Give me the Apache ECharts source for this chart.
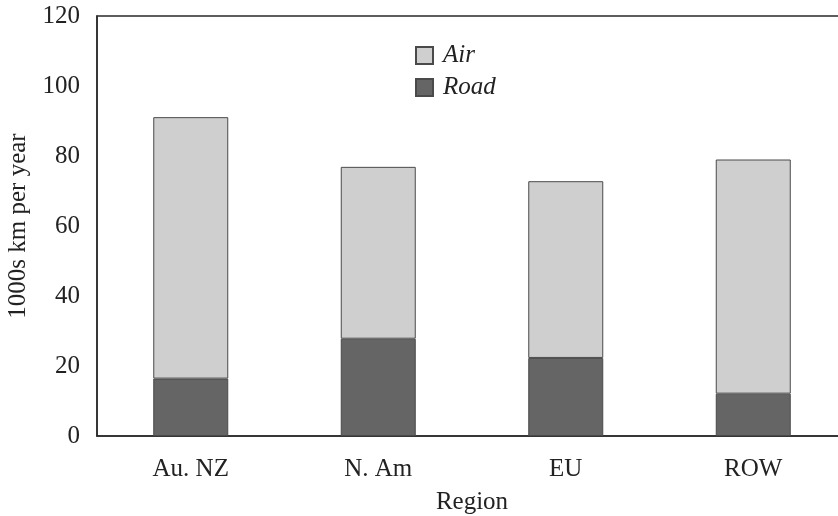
<!DOCTYPE html>
<html>
<head>
<meta charset="utf-8">
<script src="https://cdn.jsdelivr.net/npm/echarts@6/dist/echarts.min.js"></script>
<style>html,body{margin:0;padding:0;background:#fff}#c{width:838px;height:516px}</style>
</head>
<body>
<div id="c"></div>
<script>
const categories = ['Au. NZ', 'N. Am', 'EU', 'ROW'];
const totals = [91.1, 76.9, 72.8, 79.0];
const road = [16.4, 27.8, 22.3, 12.1];
const air = totals.map((t, i) => +(t - road[i]).toFixed(1));
const yTicks = [0, 20, 40, 60, 80, 100, 120];

const FONT = '"Liberation Serif", "DejaVu Serif", serif';
const FS = 25;
const chart = echarts.init(document.getElementById('c'), null, {renderer: 'canvas'});
chart.setOption({
  animation: false,
  backgroundColor: '#ffffff',
  grid: {left: 97, top: 16, width: 750, height: 420, containLabel: false, outerBoundsMode: 'none',
    show: true, borderColor: '#2a2a2a', borderWidth: 1.5, backgroundColor: 'transparent'},
  legend: {
    orient: 'vertical', left: 410, top: 38, itemWidth: 17, itemHeight: 17, itemGap: 7,
    icon: 'rect',
    textStyle: {fontFamily: FONT, fontStyle: 'italic', fontSize: 25, color: '#222', lineHeight: 25, padding: [0, 0, 0, 5]},
    data: ['Air', 'Road']
  },
  xAxis: {
    type: 'category', data: categories,
    axisLine: {show: true, lineStyle: {color: '#2a2a2a', width: 1.5}},
    axisTick: {show: false},
    axisLabel: {fontFamily: FONT, fontSize: FS, color: '#222', margin: 21},
    name: 'Region', nameLocation: 'middle', nameGap: 54,
    nameTextStyle: {fontFamily: FONT, fontSize: FS, color: '#222'}
  },
  yAxis: {
    type: 'value', min: 0, max: 120, interval: 20,
    axisLine: {show: true, lineStyle: {color: '#2a2a2a', width: 1.5}},
    axisTick: {show: false},
    splitLine: {show: false},
    axisLabel: {fontFamily: FONT, fontSize: FS, color: '#222', margin: 17,
      formatter: v => yTicks.includes(v) ? String(v) : ''},
    name: '1000s km per year', nameLocation: 'middle', nameGap: 66, nameRotate: 90,
    nameTextStyle: {fontFamily: FONT, fontSize: FS, color: '#222'}
  },
  series: [
    {name: 'Road', type: 'bar', stack: 's', data: road, barWidth: 75,
      itemStyle: {color: '#656565', borderColor: '#4a4a4a', borderWidth: 1}},
    {name: 'Air', type: 'bar', stack: 's', data: air, barWidth: 75,
      itemStyle: {color: '#cfcfcf', borderColor: '#4a4a4a', borderWidth: 1}}
  ]
});
</script>
</body>
</html>
